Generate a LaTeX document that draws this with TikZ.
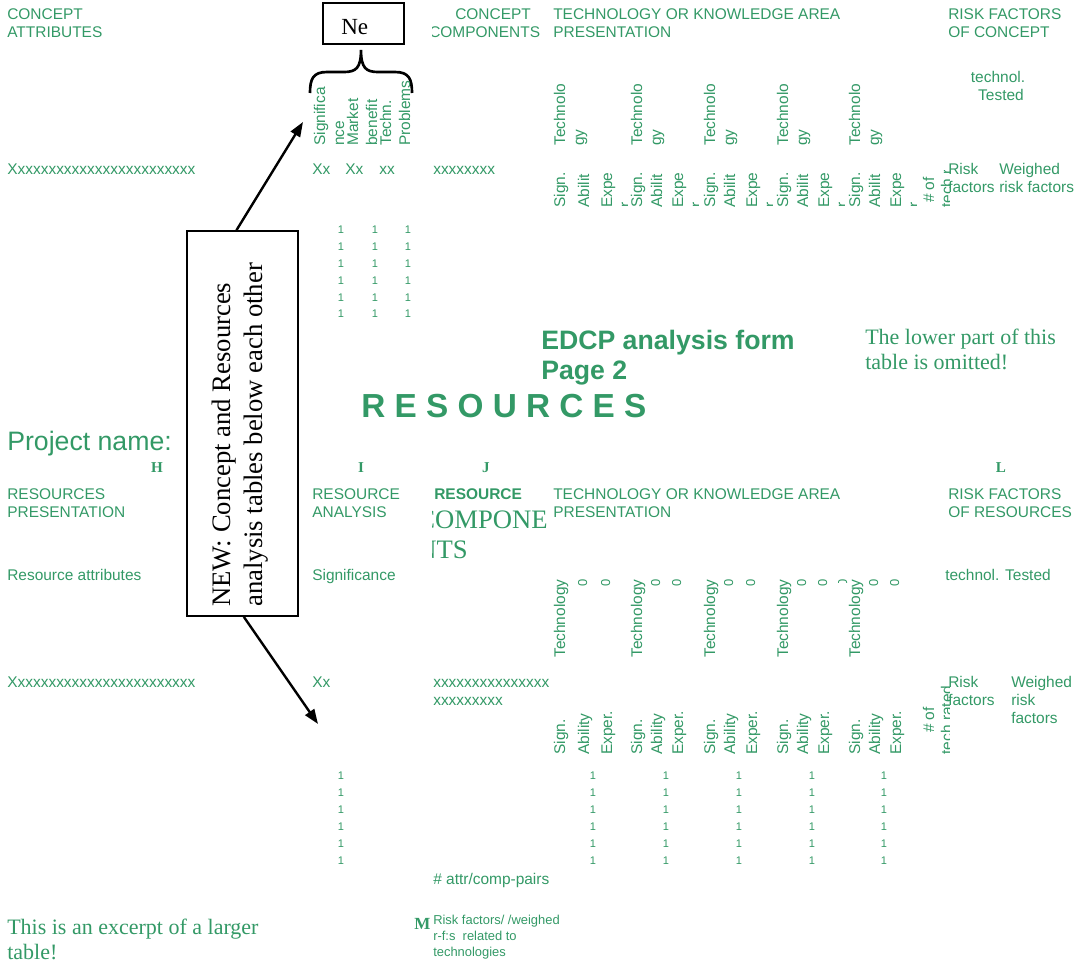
\documentclass[tikz,border=0pt]{standalone}
\usepackage{fontspec}
\setmainfont{Liberation Sans}
\newfontfamily\tnr{Liberation Serif}
\usetikzlibrary{arrows.meta}
\definecolor{sheetgreen}{RGB}{51,153,102}

\tikzset{
  cell/.style={font=\fontsize{11.6}{13.5}\selectfont, text=sheetgreen, inner sep=0pt, anchor=base west},
  vcell/.style={cell, rotate=90},
  boldcell/.style={cell, font=\bfseries\fontsize{11.6}{13.5}\selectfont},
  num/.style={font=\fontsize{8.3}{9}\selectfont, text=sheetgreen, inner sep=0pt, anchor=base},
  zero/.style={cell, rotate=90, font=\fontsize{9.7}{11}\selectfont},
  colmark/.style={font=\tnr\bfseries\fontsize{11.3}{13}\selectfont, text=sheetgreen, inner sep=0pt, anchor=base},
  note/.style={font=\tnr\fontsize{16.5}{18.75}\selectfont, text=sheetgreen, inner sep=0pt, anchor=base west},
  smallnote/.style={cell, font=\fontsize{9.7}{12}\selectfont},
  bigserif/.style={font=\tnr\fontsize{20}{22.5}\selectfont, text=sheetgreen, inner sep=0pt, anchor=base west},
  titlefont/.style={font=\bfseries\fontsize{20}{22.5}\selectfont, text=sheetgreen, inner sep=0pt, anchor=base west},
  framebox/.style={draw, line width=1.3pt, inner sep=0pt},
  pointer/.style={line width=1.8pt, -{Triangle[length=11pt,width=8pt]}},
}

\begin{document}
\begin{tikzpicture}[x=0.75pt,y=-0.75pt]
\useasboundingbox (0,0) rectangle (1086,964);

% ---------- concept table: headings ----------
\node[cell] (cattr1) at (7,19.5) {CONCEPT};
\node[cell] (cattr2) at (7,37.5) {ATTRIBUTES};
\node[cell] (ccomp1) at (455,19.5) {CONCEPT};
\begin{scope}
  \clip (432,20) rectangle (552,50);
  \node[cell] (ccomp2) at (429,37.5) {COMPONENTS};
\end{scope}
\node[cell] (ctech1) at (553,19.5) {TECHNOLOGY OR KNOWLEDGE AREA};
\node[cell] (ctech2) at (553,37.5) {PRESENTATION};
\node[cell] (crisk1) at (948,19.5) {RISK FACTORS};
\node[cell] (crisk2) at (948,37.5) {OF CONCEPT};
\node[cell, anchor=base] (ctest1) at (998,82) {technol.};
\node[cell, anchor=base] (ctest2) at (1001,100) {Tested};

% small callout box with its brace over the analysis columns
\node[framebox, minimum width=60.75pt, minimum height=30.75pt] (nebox) at (363.5,23.5) {};
\node[font=\tnr\fontsize{17.3}{20}\selectfont, inner sep=0pt, anchor=base west] (netext) at (341,34) {Ne};
\coordinate (bracetip) at (361,50);
\draw[line width=2pt]
  (310,93) .. controls (310,79) and (313,72) .. (327,72) -- (344,72)
  .. controls (356,72) and (361,68) .. (bracetip)
  .. controls (361,68) and (366,72) .. (378,72) -- (395,72)
  .. controls (409,72) and (412,79) .. (412,93);

% rotated analysis headers
\node[vcell] (h1a) at (325,146) {Significa};
\node[vcell] (h1b) at (344,146) {nce};
\node[vcell] (h2a) at (358,146) {Market};
\node[vcell] (h2b) at (377,146) {benefit};
\node[vcell] (h3a) at (391,146) {Techn.};
\node[vcell] (h3b) at (410,146) {Problems};

% technology groups (concept and resources tables)
\foreach \s/\a/\e [count=\i] in {565/589/612,642/662/683,715/735/757,788/808/829,860/880/901}{
  \node[vcell] (tt\i) at (\s,146) {Technolo};
  \node[vcell] (tg\i) at (\s+19,146) {gy};
  \node[vcell] (ts\i) at (\s,208) {Sign.};
  \node[vcell] (ta\i) at (\a,208) {Abilit};
  \node[vcell] (te\i) at (\e,208) {Expe};
  \begin{scope}
    \clip (\e+5,165) rectangle (\e+15,215);
    \node[vcell] (tr\i) at (\e+18,208) {r.};
  \end{scope}
  \node[vcell] (lt\i) at (\s,658) {Technology};
  \node[zero] (lza\i) at (\a-2,587) {0};
  \node[zero] (lze\i) at (\e-2,587) {0};
  \node[vcell] (ls\i) at (\s,755) {Sign.};
  \node[vcell] (la\i) at (\a,755) {Ability};
  \node[vcell] (le\i) at (\e,755) {Exper.};
  \foreach \r [count=\j] in {775,792,809,826,843,860}
    \node[num] (ln\i-\j) at (\a+4,\r+4) {1};
}

% rated-technology counters
\node[vcell, anchor=base] (cnum1) at (934,190) {\# of};
\begin{scope}
  \clip (938,170) rectangle (949,212);
  \node[vcell] (cnum2) at (952,208) {tech rated};
\end{scope}
\node[vcell, anchor=base] (rnum1) at (934,720) {\# of};
\begin{scope}
  \clip (938,684) rectangle (949,758);
  \node[vcell, anchor=base] (rnum2) at (952,720) {tech rated};
\end{scope}

% concept data row
\node[cell] (crow) at (7,174.5) {Xxxxxxxxxxxxxxxxxxxxxxxx};
\node[cell] (cxx1) at (312,174.5) {Xx};
\node[cell] (cxx2) at (345,174.5) {Xx};
\node[cell] (cxx3) at (379,174.5) {xx};
\node[cell] (cxx4) at (433,174.5) {xxxxxxxx};
\node[cell] (crf1) at (948,174.5) {Risk};
\node[cell] (crf2) at (948,192.5) {factors};
\node[cell] (cwr1) at (999,174.5) {Weighed};
\node[cell] (cwr2) at (999,192.5) {risk factors};

\foreach \c [count=\i] in {341,375,408}
  \foreach \r [count=\j] in {229,246,263,280,297,313}
    \node[num] (un\i-\j) at (\c,\r+4) {1};

% ---------- page title ----------
\node[titlefont] (form1) at (541,349.5) {EDCP analysis form};
\node[titlefont] (form2) at (541,379.5) {Page 2};
\node[note] (omit1) at (865,344) {The lower part of this};
\node[note] (omit2) at (865,369) {table is omitted!};
\node[font=\bfseries\fontsize{25}{29}\selectfont, text=sheetgreen, inner sep=0pt, anchor=base west] (restitle) at (361,417) {R E S O U R C E S};
\node[font=\fontsize{20}{23}\selectfont, text=sheetgreen, inner sep=0pt, anchor=base west] (proj) at (7,450) {Project name:};
\node[colmark] (colH) at (157,472) {H};
\node[colmark] (colI) at (361,472) {I};
\node[colmark] (colJ) at (486,472) {J};
\node[colmark] (colL) at (1001,472) {L};

% ---------- resources table ----------
\node[cell] (rpres1) at (7,499.5) {RESOURCES};
\node[cell] (rpres2) at (7,517.5) {PRESENTATION};
\node[cell] (ranal1) at (312,499.5) {RESOURCE};
\node[cell] (ranal2) at (312,517.5) {ANALYSIS};
\node[boldcell] (rcomp1) at (434,499.5) {RESOURCE};
\begin{scope}
  \clip (432,505) rectangle (552,570);
  \node[bigserif] (rcomp2) at (417,528) {COMPONE};
  \node[bigserif] (rcomp3) at (417,558) {NTS};
\end{scope}
\node[cell] (rtech1) at (553,499.5) {TECHNOLOGY OR KNOWLEDGE AREA};
\node[cell] (rtech2) at (553,517.5) {PRESENTATION};
\node[cell] (rrisk1) at (948,499.5) {RISK FACTORS};
\node[cell] (rrisk2) at (948,517.5) {OF RESOURCES};
\node[cell] (rattr) at (7,580.5) {Resource attributes};
\node[cell] (rsig) at (312,580.5) {Significance};
\node[cell] (rtest) at (945,580.5) {technol. Tested};
\begin{scope}
  \clip (836,570) rectangle (852,582);
  \node[zero] (lzx) at (847,587) {0};
\end{scope}

\node[cell] (rrow) at (7,687.5) {Xxxxxxxxxxxxxxxxxxxxxxxx};
\node[cell] (rxx) at (312,687.5) {Xx};
\node[cell] (rxs1) at (433,687.5) {xxxxxxxxxxxxxxx};
\node[cell] (rxs2) at (433,705.5) {xxxxxxxxx};
\node[cell] (rrf1) at (948,687.5) {Risk};
\node[cell] (rrf2) at (948,705.5) {factors};
\node[cell] (rwr1) at (1011,687.5) {Weighed};
\node[cell] (rwr2) at (1011,705.5) {risk};
\node[cell] (rwr3) at (1011,723.5) {factors};

\foreach \r [count=\j] in {775,792,809,826,843,860}
  \node[num] (rn\j) at (341,\r+4) {1};

\node[cell] (rpairs) at (433,884) {\# attr/comp-pairs};
\node[font=\tnr\bfseries\fontsize{12.75}{14}\selectfont, text=sheetgreen, inner sep=0pt, anchor=base west] (colM) at (414,929) {M};
\node[smallnote] (rtf1) at (433,924.5) {Risk factors/ /weighed};
\node[smallnote] (rtf2) at (433,940.5) {r-f:s\ \ related to};
\node[smallnote] (rtf3) at (433,956.5) {technologies};
\node[note] (excerpt1) at (7,934) {This is an excerpt of a larger};
\node[note] (excerpt2) at (7,959) {table!};

% ---------- explanation box and its pointers ----------
\node[framebox, fill=white, minimum width=83.25pt, minimum height=288.75pt] (newbox) at (242.5,423.5) {};
\node[rotate=90, align=left, anchor=north west, font=\tnr\fontsize{20}{24}\selectfont, inner sep=0pt] (newtext) at (211.6,607)
  {NEW: Concept and Resources\\analysis tables below each other};
\coordinate (tipA) at (303,122);
\coordinate (tipB) at (318,724);
\draw[pointer] ([xshift=-4.5pt]newbox.north) -- (tipA);
\draw[pointer] ([xshift=1pt]newbox.south) -- (tipB);
\end{tikzpicture}
\end{document}
